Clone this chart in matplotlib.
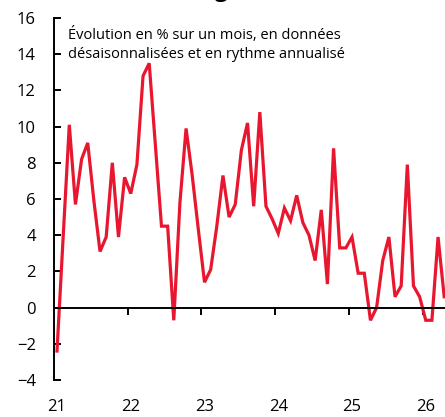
import numpy as np
import matplotlib.pyplot as plt

# Evolution mensuelle annualisee (%), janv. 2021 -> avr. 2026
years = ['21', '22', '23', '24', '25', '26']
values = [
    -2.4, 3.9, 10.1, 5.7, 8.2, 9.1, 5.9, 3.1, 3.9, 8.0, 3.9, 7.2,
    6.3, 7.9, 12.8, 13.5, 9.0, 4.5, 4.5, -0.7, 5.8, 9.9, 7.3, 4.3,
    1.4, 2.1, 4.5, 7.3, 5.0, 5.7, 8.7, 10.2, 5.6, 10.8, 5.6, 4.9,
    4.1, 5.5, 4.8, 6.2, 4.7, 4.0, 2.6, 5.4, 1.3, 8.8, 3.3, 3.3,
    3.9, 1.9, 1.9, -0.7, 0.0, 2.6, 3.9, 0.6, 1.2, 7.9, 1.2, 0.6,
    -0.7, -0.7, 3.9, 0.6,
]
months = np.arange(len(values))

plt.rcParams['font.family'] = ['Open Sans', 'DejaVu Sans']

fig = plt.figure(figsize=(4.45, 4.17), dpi=100)
ax = fig.add_axes([0.1212, 0.0887, 0.8788, 0.8681])

ax.plot(months, values, color='#E8172F', lw=2.3, solid_joinstyle='miter', clip_on=False)

ax.set_xlim(-0.5, 63.13)
ax.set_ylim(-4, 16)

for s in ['top', 'right']:
    ax.spines[s].set_visible(False)
ax.spines['bottom'].set_position(('data', 0))
ax.spines['left'].set_linewidth(1.4)
ax.spines['bottom'].set_linewidth(1.4)

ax.set_yticks(np.arange(-4, 17, 2))
ax.tick_params(axis='y', direction='in', length=5, width=1.4, pad=13, labelsize=12)

# graduations aux changements d'annee, etiquettes sous le graphique
ax.set_xticks(np.arange(11.5, 64, 12))
ax.set_xticklabels([])
ax.tick_params(axis='x', direction='out', length=5, width=1.4)
for k, lab in enumerate(years):
    ax.text(12 * k, -0.075, lab, transform=ax.get_xaxis_transform(),
            ha='center', va='center', fontsize=12)

ax.text(0.035, 0.975, 'Évolution en % sur un mois, en données\ndésaisonnalisées et en rythme annualisé',
        transform=ax.transAxes, ha='left', va='top', fontsize=10.5, linespacing=1.35)

# titre coupe en haut de l'image (seul le jambage du g reste visible)
fig.text(0.498, 1.006, 'g', ha='center', va='baseline', fontsize=16, fontweight='bold')

fig.savefig('out.png', dpi=100)
